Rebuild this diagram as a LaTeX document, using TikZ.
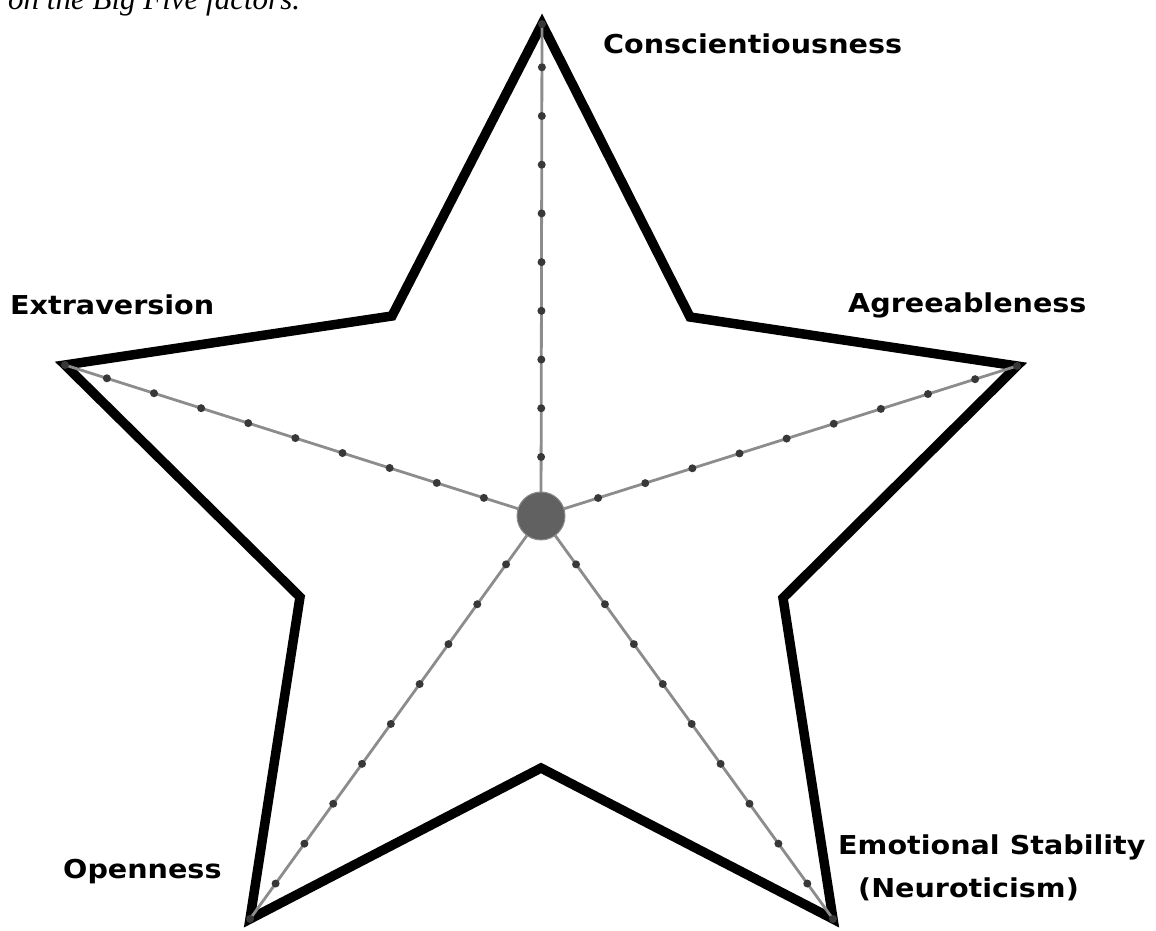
\documentclass[tikz,border=0pt]{standalone}
\usepackage{fontspec}
\setmainfont{Liberation Serif}
\newfontfamily\traitfont[FakeStretch=1.1]{DejaVu Sans}

\tikzset{
	trait/.style={font=\traitfont\bfseries\fontsize{26}{30}\selectfont, inner sep=0pt, anchor=base west},
	starline/.style={line width=9.5pt, line join=miter, miter limit=10},
	spoke/.style={draw=black!45, line width=2.8pt},
	tick/.style={circle, fill=black!78, inner sep=0pt, minimum size=8pt},
	hub/.style={circle, fill=black!62, draw=black!45, line width=1pt, minimum size=48pt, inner sep=0pt}
}

\begin{document}
\begin{tikzpicture}[x=1pt, y=1pt]
			\useasboundingbox (0,0) rectangle (1156,931);
			\node[anchor=base west, inner sep=0pt, font=\itshape\fontsize{31}{36}\selectfont] (caption) at (8,921.5) {on the Big Five factors.};
			% points and inner corners of the star
			\coordinate (c) at (541,415);
			\coordinate (con) at (542,907);
			\coordinate (agr) at (1017,565);
			\coordinate (emo) at (833,12);
			\coordinate (ope) at (250,12);
			\coordinate (ext) at (65,566);
			\coordinate (in1) at (690,614);
			\coordinate (in2) at (783,333);
			\coordinate (in3) at (541,163);
			\coordinate (in4) at (300,334);
			\coordinate (in5) at (392,615);
			\draw[starline] (con) -- (in1) -- (agr) -- (in2) -- (emo) -- (in3) -- (ope) -- (in4) -- (ext) -- (in5) -- cycle;
			\foreach \v in {con,agr,emo,ope,ext}
				\draw[spoke] (c) -- (\v) \foreach \p in {0.12,0.219,0.318,0.417,0.516,0.615,0.714,0.813,0.912} {node[tick, pos=\p]{}} node[tick, pos=1]{};
			\node[hub] (hub) at (c) {};
			\node[trait] (lcon) at (603,877) {Conscientiousness};
			\node[trait] (lagr) at (848,618) {Agreeableness};
			\node[trait] (lext) at (10,616) {Extraversion};
			\node[trait] (lope) at (63,52) {Openness};
			\node[trait] (lemo) at (838,76) {Emotional Stability};
			\node[trait] (lneu) at (858,33) {(Neuroticism)};
			\end{tikzpicture}
\end{document}
